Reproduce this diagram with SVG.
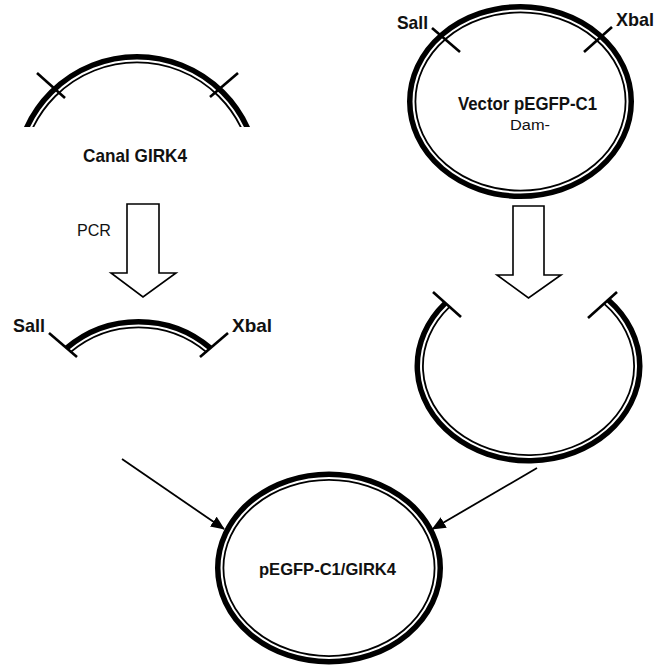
<svg xmlns="http://www.w3.org/2000/svg" width="655" height="667" viewBox="0 0 655 667">
<style>
.thick{fill:none;stroke:#000;stroke-width:5.5}
.thin{fill:none;stroke:#000;stroke-width:1.8}
.tick{stroke:#000;stroke-width:2.6;stroke-linecap:butt}
.harrow{fill:#fff;stroke:#000;stroke-width:1.6;stroke-linejoin:miter}
.lbl{font-family:"Liberation Sans",Arial,sans-serif;fill:#111}
.b{font-weight:bold}
.conn{stroke:#000;stroke-width:1.8;fill:none}
</style>
<defs>
<clipPath id="clipTop"><rect x="0" y="0" width="300" height="127"/></clipPath>
<marker id="ah" markerWidth="14" markerHeight="12" refX="13" refY="6" orient="auto" markerUnits="userSpaceOnUse"><path d="M0,0 L14,6 L0,12 Z" fill="#000"/></marker>
</defs>

<g id="canal-girk4">
<g clip-path="url(#clipTop)">
<circle class="thick" cx="137" cy="178" r="121.25"/>
<circle class="thin" cx="137" cy="178" r="115.6"/>
</g>
<line class="tick" x1="37" y1="73" x2="65" y2="98"/>
<line class="tick" x1="238" y1="73" x2="210" y2="97"/>
<text class="lbl b" x="83" y="162" font-size="19" textLength="104" lengthAdjust="spacingAndGlyphs">Canal GIRK4</text>
</g>

<g id="pcr-arrow">
<path class="harrow" d="M127,204 H159 V273 H176 L143,297 L111,273 H127 Z"/>
<text class="lbl" x="77" y="236" font-size="16" textLength="34" lengthAdjust="spacingAndGlyphs">PCR</text>
</g>

<g id="pcr-fragment">
<path class="thick" d="M66.52,348.12 A111.25,111.25 0 0 1 210.48,348.12"/>
<path class="thin" d="M70.18,352.43 A105.6,105.6 0 0 1 206.82,352.43"/>
<line class="tick" x1="49" y1="333" x2="77" y2="357"/>
<line class="tick" x1="228" y1="333" x2="200" y2="357"/>
<text class="lbl b" x="13" y="332" font-size="18.5" textLength="32" lengthAdjust="spacingAndGlyphs">Sall</text>
<text class="lbl b" x="232" y="332" font-size="18.5" textLength="40" lengthAdjust="spacingAndGlyphs">Xbal</text>
</g>

<g id="vector">
<ellipse class="thick" cx="520.5" cy="101.5" rx="110.75" ry="94.75"/>
<ellipse class="thin" cx="520.5" cy="101.5" rx="105.1" ry="89.1"/>
<line class="tick" x1="432" y1="28" x2="460" y2="52"/>
<line class="tick" x1="612" y1="27" x2="584" y2="52"/>
<text class="lbl b" x="397" y="29" font-size="19" textLength="31" lengthAdjust="spacingAndGlyphs">Sall</text>
<text class="lbl b" x="616" y="26" font-size="19" textLength="38" lengthAdjust="spacingAndGlyphs">Xbal</text>
<text class="lbl b" x="458" y="110" font-size="18.5" textLength="139" lengthAdjust="spacingAndGlyphs">Vector pEGFP-C1</text>
<text class="lbl" x="510" y="130" font-size="15.5" textLength="40" lengthAdjust="spacingAndGlyphs">Dam-</text>
</g>

<g id="digest-arrow">
<path class="harrow" d="M513,206 H544 V275 H561 L528.5,298 L497,275 H513 Z"/>
</g>

<g id="open-vector">
<path class="thick" d="M445.06,303.37 A111.25,94.75 0 1 0 608.6,300.24"/>
<path class="thin" d="M449.3,307.1 A105.6,89.1 0 1 0 604.53,304.16"/>
<line class="tick" x1="433" y1="292" x2="461" y2="317"/>
<line class="tick" x1="617" y1="292" x2="588" y2="318"/>
</g>

<g id="recombinant">
<ellipse class="thick" cx="329" cy="568" rx="111.25" ry="93.75"/>
<ellipse class="thin" cx="329" cy="568" rx="105.6" ry="88.1"/>
<text class="lbl b" x="259" y="575" font-size="16.5" textLength="137" lengthAdjust="spacingAndGlyphs">pEGFP-C1/GIRK4</text>
</g>

<g id="connectors">
<line class="conn" x1="122" y1="459" x2="224" y2="529" marker-end="url(#ah)"/>
<line class="conn" x1="537" y1="468" x2="432.5" y2="529" marker-end="url(#ah)"/>
</g>
</svg>
